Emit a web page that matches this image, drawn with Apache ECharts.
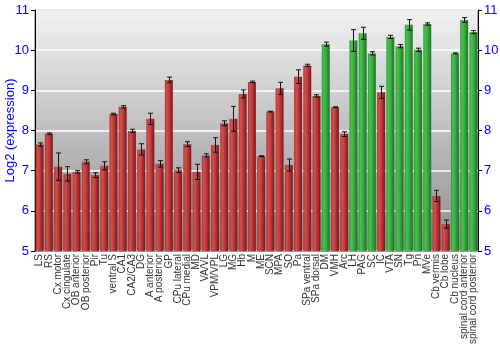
<!DOCTYPE html>
<html><head><meta charset="utf-8">
<script src="https://cdn.jsdelivr.net/npm/echarts@6/dist/echarts.min.js"></script>
<style>html,body{margin:0;padding:0;background:#fff}#c{width:500px;height:350px}</style>
</head><body><div id="c"></div>
<script>
var categories = ["LS","RS","Cx motor","Cx cingulate","OB anterior","OB posterior","Pir","Tu","ventral S","CA1","CA2/CA3","DG","A anterior","A posterior","GP","CPu lateral","CPu medial","MD","VA/VL","VPM/VPL","LG","MG","Hb","M","ME","SCN","MPA","SO","Pa","SPa ventral","SPa dorsal","DM","VMH","Arc","LH","PAG","SC","IC","VTA","SN","Tg","Pn","MVe","Cb vermis","Cb lobe","Cb nucleus","spinal cord anterior","spinal cord posterior"];
var values = [7.65,7.92,7.10,6.92,6.97,7.22,6.89,7.12,8.41,8.59,7.99,7.53,8.29,7.17,9.26,7.01,7.66,6.97,7.38,7.64,8.18,8.29,8.91,9.21,7.36,8.47,9.05,7.14,9.34,9.62,8.86,10.15,8.58,7.91,10.24,10.42,9.92,8.95,10.33,10.10,10.63,10.01,10.65,6.37,5.67,9.92,10.75,10.45];
var errors = [0.04,0.02,0.34,0.18,0.03,0.05,0.06,0.10,0.02,0.03,0.04,0.14,0.14,0.08,0.07,0.06,0.06,0.19,0.04,0.18,0.06,0.31,0.10,0.02,0.01,0.01,0.15,0.15,0.17,0.03,0.03,0.05,0.01,0.06,0.27,0.15,0.04,0.15,0.04,0.04,0.13,0.04,0.03,0.14,0.10,0.01,0.06,0.04];
var groups = ["r","r","r","r","r","r","r","r","r","r","r","r","r","r","r","r","r","r","r","r","r","r","r","r","r","r","r","r","r","r","r","g","r","r","g","g","g","r","g","g","g","g","g","r","r","g","g","g"];
var yTicks = [5,6,7,8,9,10,11];

function grad(stops){
  return new echarts.graphic.LinearGradient(0,0,1,0,stops.map(function(s){return {offset:s[0],color:s[1]};}));
}
var redGrad = grad([[0,'#a83232'],[0.25,'#d25050'],[0.6,'#b83636'],[1,'#7a1414']]);
var greenGrad = grad([[0,'#2f9a35'],[0.25,'#4cc052'],[0.6,'#33a83a'],[1,'#1d7020']]);

var barData = values.map(function(v,i){
  return {value:v, itemStyle:{color: groups[i]==='g'?greenGrad:redGrad}};
});
var errData = values.map(function(v,i){ return [i, v-errors[i], v+errors[i]]; });

var chart = echarts.init(document.getElementById('c'), null, {renderer:'canvas'});
var font = 'Liberation Sans, Arial, sans-serif';
chart.setOption({
  animation:false,
  grid:{left:35,right:22,top:10,bottom:99,containLabel:false,outerBoundsMode:'none',show:true,borderColor:'#666',borderWidth:1,
    backgroundColor:new echarts.graphic.LinearGradient(0,0,0,1,[{offset:0,color:'#f2f2f2'},{offset:1,color:'#8c8c8c'}])},
  xAxis:{type:'category',data:categories,
    axisLine:{show:true,lineStyle:{color:'#999'}},axisTick:{show:false},
    axisLabel:{rotate:90,interval:0,fontSize:10,color:'#333',fontFamily:font,margin:3}},
  yAxis:[{type:'value',min:5,max:11,interval:1,position:'left',
      name:'Log2 (expression)',nameLocation:'middle',nameGap:18,nameMoveOverlap:false,
      nameTextStyle:{color:'#0000ff',fontSize:13,fontFamily:font},
      axisLine:{show:true,lineStyle:{color:'#000'}},
      axisTick:{show:true,length:4,lineStyle:{color:'#000'}},
      axisLabel:{color:'#0000ff',fontSize:13,fontFamily:font,margin:6},
      splitLine:{show:true,lineStyle:{color:'#ffffff',width:1.5}}},
    {type:'value',min:5,max:11,interval:1,position:'right',
      axisLine:{show:true,lineStyle:{color:'#000'}},
      axisTick:{show:true,length:4,lineStyle:{color:'#000'}},
      axisLabel:{color:'#0000ff',fontSize:13,fontFamily:font,margin:6},
      splitLine:{show:false}}],
  series:[
    {type:'bar',data:barData,barWidth:'86%',yAxisIndex:0},
    {type:'custom',data:errData,yAxisIndex:0,z:10,
      renderItem:function(params,api){
        var x=api.value(0);
        var lo=api.coord([x,api.value(1)]);
        var hi=api.coord([x,api.value(2)]);
        var cx=Math.round(lo[0])+0.5;
        var hw=2.5;
        return {type:'group',children:[
          {type:'line',shape:{x1:cx,y1:lo[1],x2:cx,y2:hi[1]},style:{stroke:'#111',lineWidth:1}},
          {type:'line',shape:{x1:cx-hw,y1:lo[1],x2:cx+hw,y2:lo[1]},style:{stroke:'#111',lineWidth:1}},
          {type:'line',shape:{x1:cx-hw,y1:hi[1],x2:cx+hw,y2:hi[1]},style:{stroke:'#111',lineWidth:1}}
        ]};
      }}
  ]
});
</script></body></html>
